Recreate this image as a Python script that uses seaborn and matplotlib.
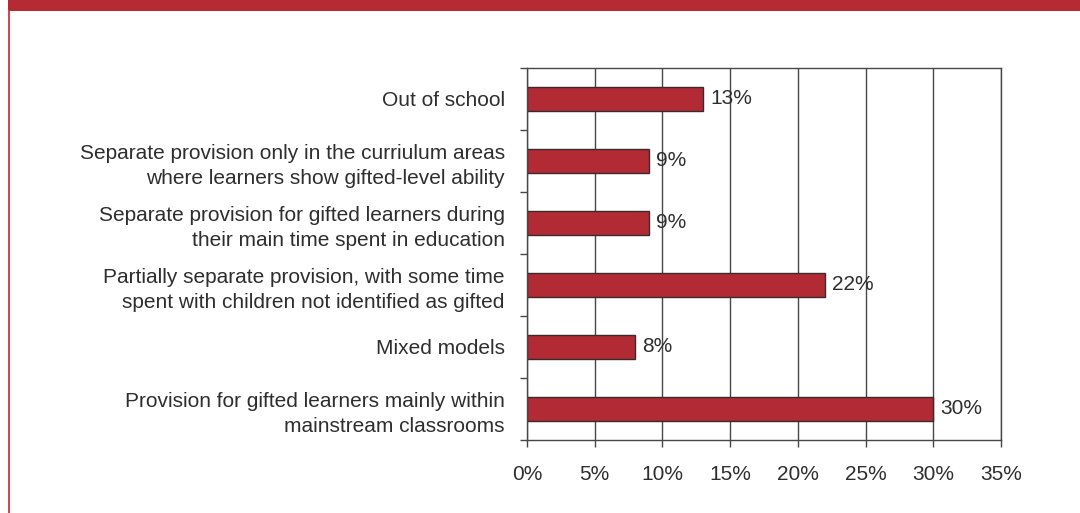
import matplotlib
matplotlib.use("Agg")
import matplotlib.pyplot as plt
import seaborn as sns
import pandas as pd
from matplotlib.lines import Line2D
from matplotlib.patches import Rectangle

# data
categories = [
    "Out of school",
    "Separate provision only in the curriulum areas\nwhere learners show gifted-level ability",
    "Separate provision for gifted learners during\ntheir main time spent in education",
    "Partially separate provision, with some time\nspent with children not identified as gifted",
    "Mixed models",
    "Provision for gifted learners mainly within\nmainstream classrooms",
]
shares = [13, 9, 9, 22, 8, 30]
x_ticks = [0, 5, 10, 15, 20, 25, 30, 35]

df = pd.DataFrame({"category": categories, "share": shares})

BAR = "#b22a34"
EDGE = "#3a2a2c"
LINE = "#474747"
TEXT = "#2e2e2e"
BRAND = "#b52a33"

sns.set_theme(style="white")
plt.rcParams["font.family"] = ["Liberation Sans", "DejaVu Sans"]

fig = plt.figure(figsize=(10.8, 5.13), dpi=100)
ax = fig.add_axes([527 / 1080, 73 / 513, 474 / 1080, 372 / 513])

sns.barplot(data=df, y="category", x="share", orient="h", color=BAR,
            edgecolor=EDGE, linewidth=1, width=0.38, saturation=1, ax=ax)

ax.set_xlim(0, 35)
ax.set_ylim(5.5, -0.5)
ax.set_xlabel("")
ax.set_ylabel("")

ax.set_xticks(x_ticks)
ax.set_xticklabels([f"{t}%" for t in x_ticks])
ax.set_axisbelow(True)
ax.xaxis.grid(True, color=LINE, linewidth=1)
ax.yaxis.grid(False)

# category boundaries carry the tick marks, labels sit at centres
ax.set_yticks([i - 0.5 for i in range(len(categories) + 1)], minor=True)
ax.tick_params(axis="y", which="major", length=0, pad=16, labelsize=15, labelcolor=TEXT)
ax.tick_params(axis="y", which="minor", left=True, length=5, width=1, color=LINE)
ax.tick_params(axis="x", which="major", bottom=True, length=5, width=1, color=LINE,
               pad=13, labelsize=15, labelcolor=TEXT)
for lab in ax.get_yticklabels():
    lab.set_linespacing(1.37)

for s in ax.spines.values():
    s.set_visible(True)
    s.set_color(LINE)
    s.set_linewidth(1)

ax.bar_label(ax.containers[0], labels=[f"{v}%" for v in shares], padding=5,
             fontsize=15, color=TEXT)

# page decoration: red band on top, thin red rule at left
fig.add_artist(Rectangle((8 / 1080, 1 - 11 / 513), 1 - 8 / 1080, 11 / 513,
                         transform=fig.transFigure, color=BRAND, lw=0))
fig.add_artist(Line2D([8.8 / 1080, 8.8 / 1080], [0, 1 - 11 / 513],
                      transform=fig.transFigure, color="#cf4a55", lw=1.5))

fig.savefig("out.png", dpi=100)
